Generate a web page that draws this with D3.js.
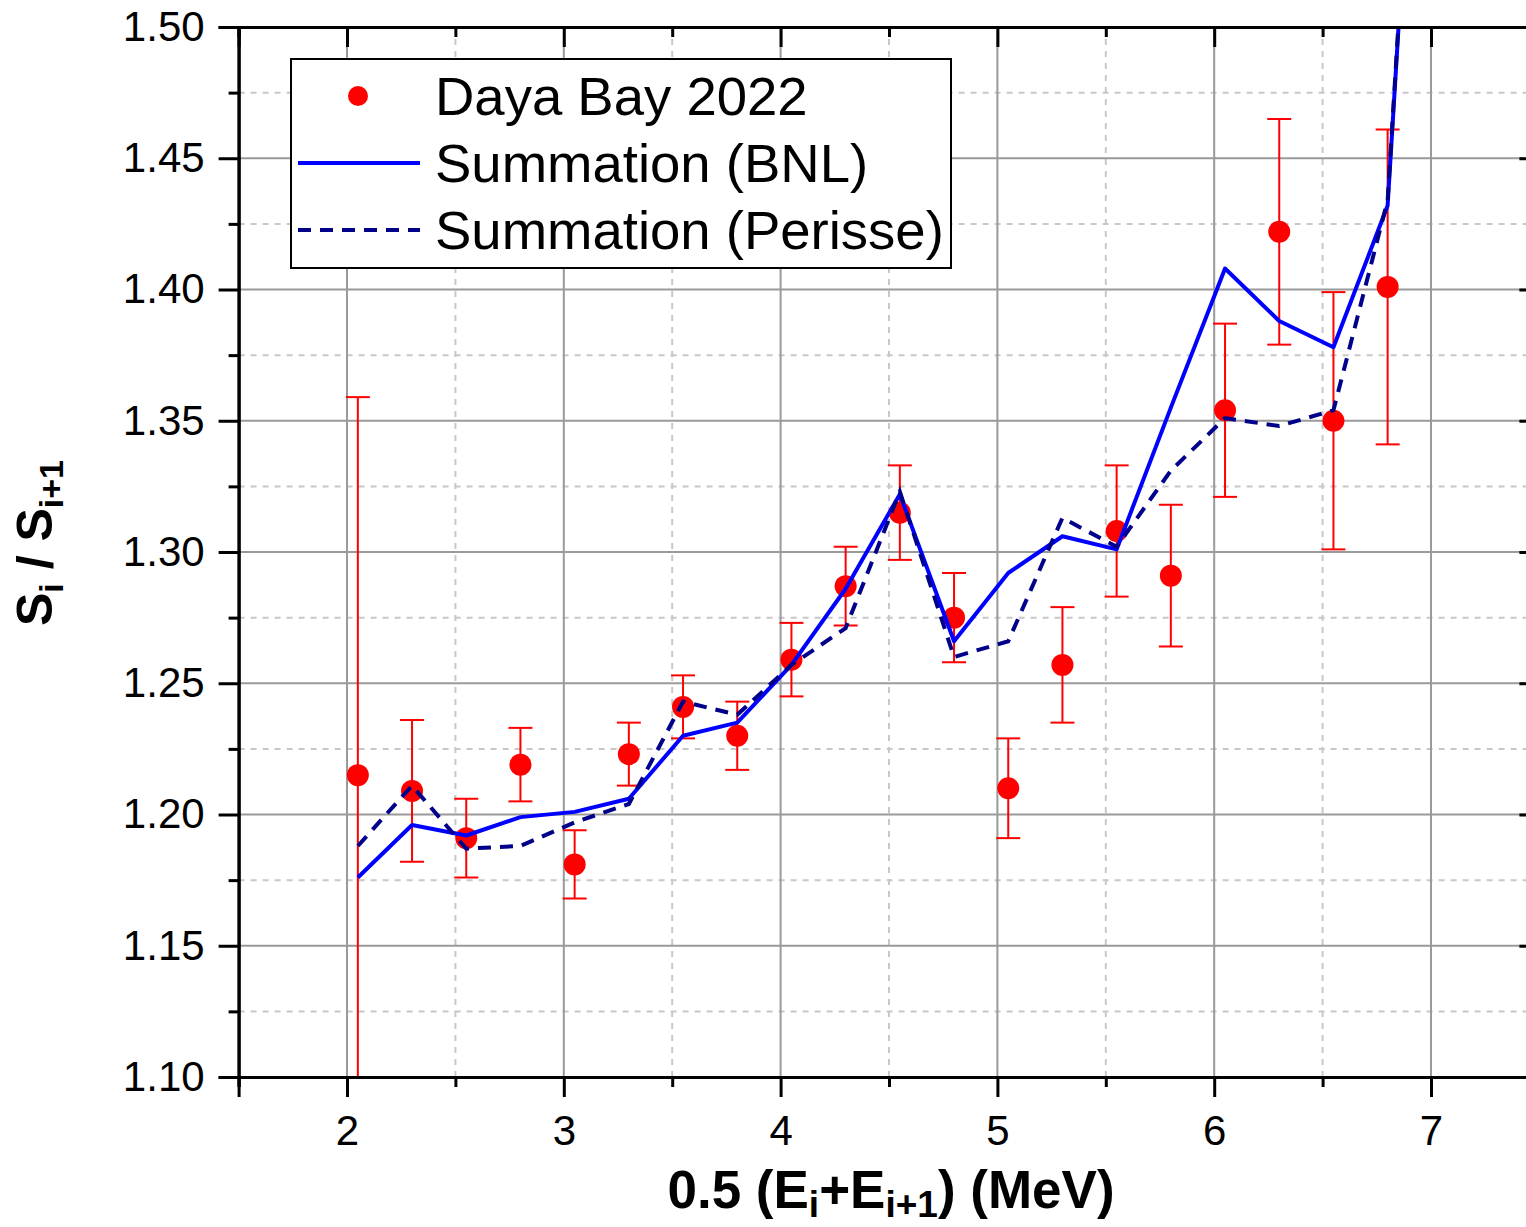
<!DOCTYPE html>
<html>
<head>
<meta charset="utf-8">
<script src="https://cdn.jsdelivr.net/npm/d3@7"></script>
<style>
  html, body { margin: 0; padding: 0; background: #fff; }
  svg { display: block; font-family: "Liberation Sans", Arial, sans-serif; }
</style>
</head>
<body>
<svg id="chart" width="1526" height="1227"></svg>
<script>
// ---- data ----
const energies = [2.05, 2.30, 2.55, 2.80, 3.05, 3.30, 3.55, 3.80, 4.05, 4.30, 4.55, 4.80, 5.05, 5.30, 5.55, 5.80, 6.05, 6.30, 6.55, 6.80];
const dayaBay = [1.215, 1.209, 1.191, 1.219, 1.181, 1.223, 1.241, 1.230, 1.259, 1.287, 1.315, 1.275, 1.210, 1.257, 1.308, 1.291, 1.354, 1.422, 1.350, 1.401];
const dayaBayErr = [0.144, 0.027, 0.015, 0.014, 0.013, 0.012, 0.012, 0.013, 0.014, 0.015, 0.018, 0.017, 0.019, 0.022, 0.025, 0.027, 0.033, 0.043, 0.049, 0.060];
const modelEnergies = [2.05, 2.30, 2.55, 2.80, 3.05, 3.30, 3.55, 3.80, 4.05, 4.30, 4.55, 4.80, 5.05, 5.30, 5.55, 5.80, 6.05, 6.30, 6.55, 6.80, 7.05];
const bnl = [1.176, 1.196, 1.192, 1.199, 1.201, 1.206, 1.230, 1.235, 1.257, 1.286, 1.322, 1.266, 1.292, 1.306, 1.301, 1.355, 1.408, 1.388, 1.378, 1.432, 1.77];
const perisse = [1.188, 1.211, 1.187, 1.188, 1.197, 1.204, 1.243, 1.238, 1.257, 1.271, 1.323, 1.260, 1.266, 1.313, 1.302, 1.331, 1.351, 1.348, 1.354, 1.434, 1.77];
const xTicks = [2, 3, 4, 5, 6, 7];
const xMinorTicks = [1.5, 2.5, 3.5, 4.5, 5.5, 6.5];
const yTicks = [1.10, 1.15, 1.20, 1.25, 1.30, 1.35, 1.40, 1.45, 1.50];
const yMinorTicks = [1.125, 1.175, 1.225, 1.275, 1.325, 1.375, 1.425, 1.475];
const legendLabels = ["Daya Bay 2022", "Summation (BNL)", "Summation (Perisse)"];

(function () {
// ---- layout ----
const svg = d3.select("#chart");
const pL = 238.6, pR = 1539.4, pT = 27, pB = 1077;
const x = d3.scaleLinear().domain([1.5, 7.5]).range([pL, pR]);
const y = d3.scaleLinear().domain([1.10, 1.50]).range([pB, pT]);

const RED = "#ff0000", BLUE = "#0000ff", NAVY = "#00008b";

svg.append("defs").append("clipPath").attr("id", "plotClip")
  .append("rect").attr("x", pL).attr("y", pT).attr("width", pR - pL).attr("height", pB - pT);

// ---- grid ----
const grid = svg.append("g");
grid.selectAll(".xmin").data(xMinorTicks.filter(d => d > 1.5)).join("line")
  .attr("x1", d => x(d)).attr("x2", d => x(d)).attr("y1", pT).attr("y2", pB)
  .attr("stroke", "#c8c8c8").attr("stroke-width", 2).attr("stroke-dasharray", "6,6");
grid.selectAll(".ymin").data(yMinorTicks).join("line")
  .attr("y1", d => y(d)).attr("y2", d => y(d)).attr("x1", pL).attr("x2", pR)
  .attr("stroke", "#c8c8c8").attr("stroke-width", 2).attr("stroke-dasharray", "6,6");
grid.selectAll(".xmaj").data(xTicks).join("line")
  .attr("x1", d => x(d)).attr("x2", d => x(d)).attr("y1", pT).attr("y2", pB)
  .attr("stroke", "#9a9a9a").attr("stroke-width", 2);
grid.selectAll(".ymaj").data(yTicks.filter(d => d > 1.10 && d < 1.50)).join("line")
  .attr("y1", d => y(d)).attr("y2", d => y(d)).attr("x1", pL).attr("x2", pR)
  .attr("stroke", "#9a9a9a").attr("stroke-width", 2);

// ---- data marks ----
const plot = svg.append("g").attr("clip-path", "url(#plotClip)");
const errG = plot.append("g").attr("stroke", RED).attr("stroke-width", 2);
energies.forEach((e, i) => {
  const hi = dayaBay[i] + dayaBayErr[i], lo = dayaBay[i] - dayaBayErr[i];
  errG.append("line").attr("x1", x(e)).attr("x2", x(e)).attr("y1", y(hi)).attr("y2", y(lo));
  errG.append("line").attr("x1", x(e) - 12).attr("x2", x(e) + 12).attr("y1", y(hi)).attr("y2", y(hi));
  errG.append("line").attr("x1", x(e) - 12).attr("x2", x(e) + 12).attr("y1", y(lo)).attr("y2", y(lo));
});
plot.append("g").selectAll("circle").data(energies).join("circle")
  .attr("cx", d => x(d)).attr("cy", (d, i) => y(dayaBay[i])).attr("r", 11).attr("fill", RED);

const line = d3.line().x(d => x(d[0])).y(d => y(d[1]));
plot.append("path").datum(modelEnergies.map((e, i) => [e, bnl[i]]))
  .attr("d", line).attr("fill", "none").attr("stroke", BLUE).attr("stroke-width", 4).attr("stroke-linejoin", "round");
plot.append("path").datum(modelEnergies.map((e, i) => [e, perisse[i]]))
  .attr("d", line).attr("fill", "none").attr("stroke", NAVY).attr("stroke-width", 4).attr("stroke-dasharray", "13,9");

// ---- axes ----
const fmt = d3.format(".2f");
svg.append("g").attr("transform", `translate(0,${pB})`)
  .call(d3.axisBottom(x).tickValues(xTicks).tickSize(20).tickPadding(18).tickFormat(d3.format("d")));
svg.append("g").attr("transform", `translate(0,${pB})`)
  .call(d3.axisBottom(x).tickValues(xMinorTicks).tickSize(10).tickFormat(""));
svg.append("g").attr("transform", `translate(${pL},0)`)
  .call(d3.axisLeft(y).tickValues(yTicks).tickSize(20).tickPadding(14).tickFormat(fmt));
svg.append("g").attr("transform", `translate(${pL},0)`)
  .call(d3.axisLeft(y).tickValues(yMinorTicks).tickSize(10).tickFormat(""));
svg.append("g").attr("transform", `translate(0,${pT})`)
  .call(d3.axisBottom(x).tickValues(xTicks).tickSize(20).tickFormat(""));
svg.append("g").attr("transform", `translate(0,${pT})`)
  .call(d3.axisBottom(x).tickValues(xMinorTicks).tickSize(10).tickFormat(""));
svg.append("g").attr("transform", `translate(${pR},0)`)
  .call(d3.axisLeft(y).tickValues(yTicks).tickSize(20).tickFormat(""));
svg.append("g").attr("transform", `translate(${pR},0)`)
  .call(d3.axisLeft(y).tickValues(yMinorTicks).tickSize(10).tickFormat(""));

svg.selectAll(".domain").attr("stroke", "#000").attr("stroke-width", 3);
svg.selectAll(".tick line").attr("stroke", "#000").attr("stroke-width", 3);
svg.selectAll(".tick text").attr("fill", "#000").attr("font-size", 42)
  .attr("font-family", "'Liberation Sans', Arial, sans-serif");

// ---- axis titles ----
const xt = svg.append("text").attr("x", 891).attr("y", 1208).attr("text-anchor", "middle")
  .attr("font-size", 53).attr("font-weight", "bold").attr("fill", "#000");
xt.append("tspan").text("0.5 (E");
xt.append("tspan").attr("font-size", 37).attr("dy", 9).text("i");
xt.append("tspan").attr("dy", -9).text("+E");
xt.append("tspan").attr("font-size", 37).attr("dy", 9).text("i+1");
xt.append("tspan").attr("dy", -9).text(") (MeV)");

const yt = svg.append("text").attr("transform", "translate(52,543) rotate(-90)").attr("text-anchor", "middle")
  .attr("font-size", 50).attr("font-weight", "bold").attr("fill", "#000");
yt.append("tspan").text("S");
yt.append("tspan").attr("font-size", 34).attr("dy", 11).text("i");
yt.append("tspan").attr("dy", -11).text(" / S");
yt.append("tspan").attr("font-size", 34).attr("dy", 11).text("i+1");

// ---- legend ----
const lg = svg.append("g");
lg.append("rect").attr("x", 291).attr("y", 59).attr("width", 660).attr("height", 209)
  .attr("fill", "#fff").attr("stroke", "#000").attr("stroke-width", 2);
const rowY = [96, 163, 230];
lg.append("circle").attr("cx", 358).attr("cy", rowY[0]).attr("r", 10).attr("fill", RED);
lg.append("line").attr("x1", 298).attr("x2", 420).attr("y1", rowY[1]).attr("y2", rowY[1])
  .attr("stroke", BLUE).attr("stroke-width", 4);
lg.append("line").attr("x1", 298).attr("x2", 420).attr("y1", rowY[2]).attr("y2", rowY[2])
  .attr("stroke", NAVY).attr("stroke-width", 4).attr("stroke-dasharray", "13,9");
lg.selectAll(".lt").data(legendLabels).join("text")
  .attr("x", 435).attr("y", (d, i) => rowY[i] + 19).attr("font-size", 54.5).attr("fill", "#000").text(d => d);
})();
</script>
</body>
</html>
